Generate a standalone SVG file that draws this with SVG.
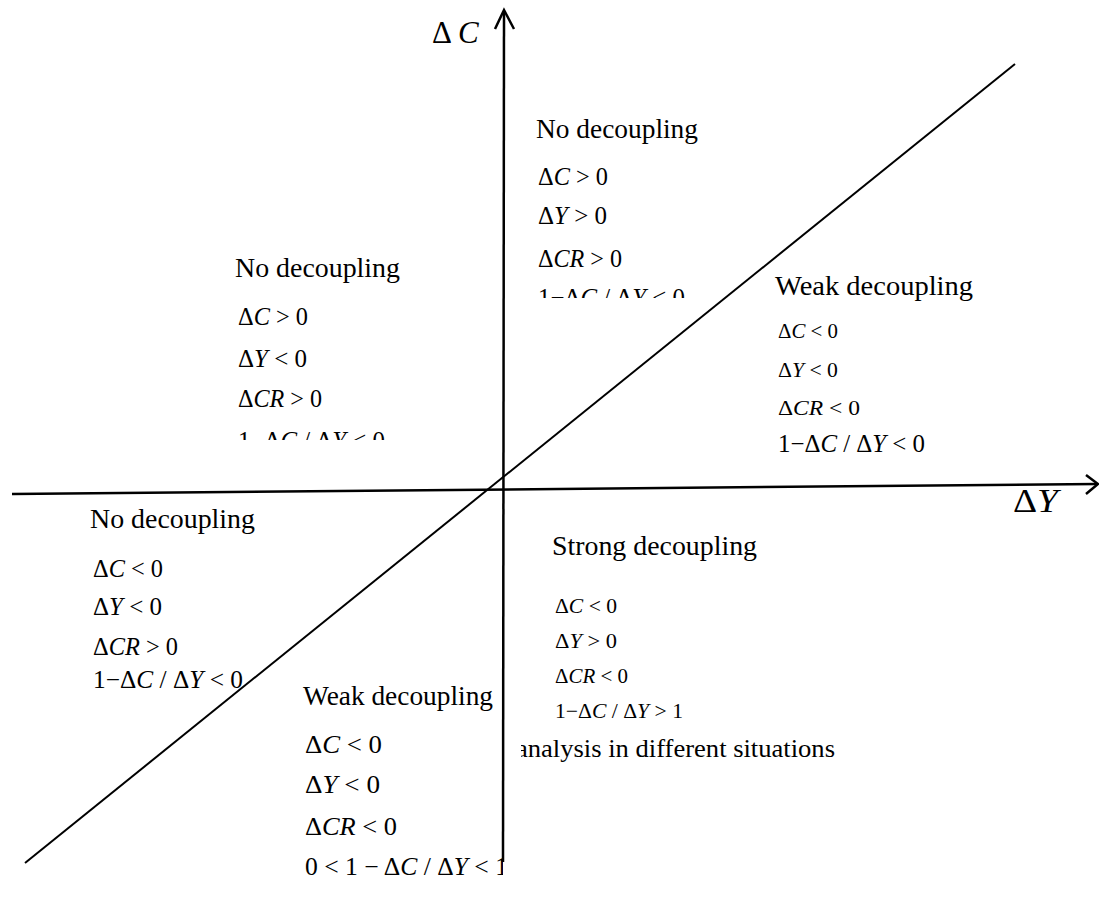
<svg xmlns="http://www.w3.org/2000/svg" width="1099" height="921" viewBox="0 0 1099 921">
<style>
text{font-family:"Liberation Serif","Times New Roman",serif;fill:#000}
.t{font-size:27px}
.m{font-size:25px}
.r{font-size:22px}
.s{font-size:21px}
.i{font-style:italic}
.ax{stroke:#000;stroke-width:2.5;fill:none}
.dg{stroke:#000;stroke-width:2;fill:none}
</style>
<defs>
<clipPath id="cTop"><rect x="0" y="0" width="1099" height="298"/></clipPath>
<clipPath id="cLeft"><rect x="0" y="0" width="1099" height="440"/></clipPath>
<clipPath id="cAxis"><rect x="0" y="0" width="503" height="921"/></clipPath>
<clipPath id="cAn"><rect x="521" y="736" width="578" height="185"/></clipPath>
</defs>
<rect width="1099" height="921" fill="#fff"/>

<g id="q-top">
<text class="t" x="536" y="138" textLength="162" lengthAdjust="spacingAndGlyphs">No decoupling</text>
<text class="m" x="538" y="185" textLength="70" lengthAdjust="spacingAndGlyphs">Δ<tspan class="i">C</tspan> &gt; 0</text>
<text class="m" x="538" y="224" textLength="69" lengthAdjust="spacingAndGlyphs">Δ<tspan class="i">Y</tspan> &gt; 0</text>
<text class="m" x="538" y="267" textLength="84" lengthAdjust="spacingAndGlyphs">Δ<tspan class="i">CR</tspan> &gt; 0</text>
<text class="m" x="538" y="306" textLength="147" lengthAdjust="spacingAndGlyphs" clip-path="url(#cTop)">1−Δ<tspan class="i">C</tspan> / Δ<tspan class="i">Y</tspan> &lt; 0</text>
</g>

<g id="q-upper-left">
<text class="t" x="235" y="277" textLength="165" lengthAdjust="spacingAndGlyphs">No decoupling</text>
<text class="m" x="238" y="325" textLength="70" lengthAdjust="spacingAndGlyphs">Δ<tspan class="i">C</tspan> &gt; 0</text>
<text class="m" x="238" y="367" textLength="69" lengthAdjust="spacingAndGlyphs">Δ<tspan class="i">Y</tspan> &lt; 0</text>
<text class="m" x="238" y="407" textLength="84" lengthAdjust="spacingAndGlyphs">Δ<tspan class="i">CR</tspan> &gt; 0</text>
<text class="m" x="238" y="449" textLength="147" lengthAdjust="spacingAndGlyphs" clip-path="url(#cLeft)">1−Δ<tspan class="i">C</tspan> / Δ<tspan class="i">Y</tspan> &lt; 0</text>
</g>

<g id="q-right">
<text class="t" x="775" y="295" textLength="198" lengthAdjust="spacingAndGlyphs">Weak decoupling</text>
<text class="r" x="778" y="338" textLength="60" lengthAdjust="spacingAndGlyphs">Δ<tspan class="i">C</tspan> &lt; 0</text>
<text class="r" x="778" y="377" textLength="60" lengthAdjust="spacingAndGlyphs">Δ<tspan class="i">Y</tspan> &lt; 0</text>
<text class="r" x="778" y="415" textLength="82" lengthAdjust="spacingAndGlyphs">Δ<tspan class="i">CR</tspan> &lt; 0</text>
<text class="m" x="778" y="452" textLength="147" lengthAdjust="spacingAndGlyphs">1−Δ<tspan class="i">C</tspan> / Δ<tspan class="i">Y</tspan> &lt; 0</text>
</g>

<g id="q-lower-left">
<text class="t" x="90" y="528" textLength="165" lengthAdjust="spacingAndGlyphs">No decoupling</text>
<text class="m" x="93" y="577" textLength="70" lengthAdjust="spacingAndGlyphs">Δ<tspan class="i">C</tspan> &lt; 0</text>
<text class="m" x="93" y="615" textLength="69" lengthAdjust="spacingAndGlyphs">Δ<tspan class="i">Y</tspan> &lt; 0</text>
<text class="m" x="93" y="655" textLength="85" lengthAdjust="spacingAndGlyphs">Δ<tspan class="i">CR</tspan> &gt; 0</text>
<text class="m" x="93" y="688" textLength="150" lengthAdjust="spacingAndGlyphs">1−Δ<tspan class="i">C</tspan> / Δ<tspan class="i">Y</tspan> &lt; 0</text>
</g>

<g id="q-bottom">
<text class="t" x="303" y="705" textLength="190" lengthAdjust="spacingAndGlyphs">Weak decoupling</text>
<text class="m" x="305" y="753" textLength="77" lengthAdjust="spacingAndGlyphs">Δ<tspan class="i">C</tspan> &lt; 0</text>
<text class="m" x="305" y="793" textLength="75" lengthAdjust="spacingAndGlyphs">Δ<tspan class="i">Y</tspan> &lt; 0</text>
<text class="m" x="305" y="835" textLength="92" lengthAdjust="spacingAndGlyphs">Δ<tspan class="i">CR</tspan> &lt; 0</text>
<text class="m" x="305" y="875" textLength="203" lengthAdjust="spacingAndGlyphs" clip-path="url(#cAxis)">0 &lt; 1 − Δ<tspan class="i">C</tspan> / Δ<tspan class="i">Y</tspan> &lt; 1</text>
</g>

<g id="q-strong">
<text class="t" x="552" y="555" textLength="205" lengthAdjust="spacingAndGlyphs">Strong decoupling</text>
<text class="s" x="555" y="613" textLength="62" lengthAdjust="spacingAndGlyphs">Δ<tspan class="i">C</tspan> &lt; 0</text>
<text class="s" x="555" y="648" textLength="62" lengthAdjust="spacingAndGlyphs">Δ<tspan class="i">Y</tspan> &gt; 0</text>
<text class="s" x="555" y="683" textLength="73" lengthAdjust="spacingAndGlyphs">Δ<tspan class="i">CR</tspan> &lt; 0</text>
<text class="s" x="555" y="718" textLength="128" lengthAdjust="spacingAndGlyphs">1−Δ<tspan class="i">C</tspan> / Δ<tspan class="i">Y</tspan> &gt; 1</text>
</g>

<g id="caption">
<text x="516" y="757" font-size="25" textLength="319" lengthAdjust="spacingAndGlyphs" clip-path="url(#cAn)">analysis in different situations</text>
</g>

<g id="axis-labels">
<text x="432" y="43" font-size="31">Δ <tspan class="i">C</tspan></text>
<text x="1013" y="512" font-size="34" textLength="45" lengthAdjust="spacingAndGlyphs">Δ<tspan class="i">Y</tspan></text>
</g>

<g id="connectors">
<line class="dg" x1="25" y1="863" x2="1015" y2="64"/>
<line class="ax" x1="503" y1="862" x2="504" y2="11"/>
<polyline class="ax" points="495,29 504,10 514,29"/>
<line class="ax" x1="12" y1="494" x2="1097" y2="484"/>
<polyline class="ax" points="1086,475 1098,484 1086,494"/>
</g>
</svg>
